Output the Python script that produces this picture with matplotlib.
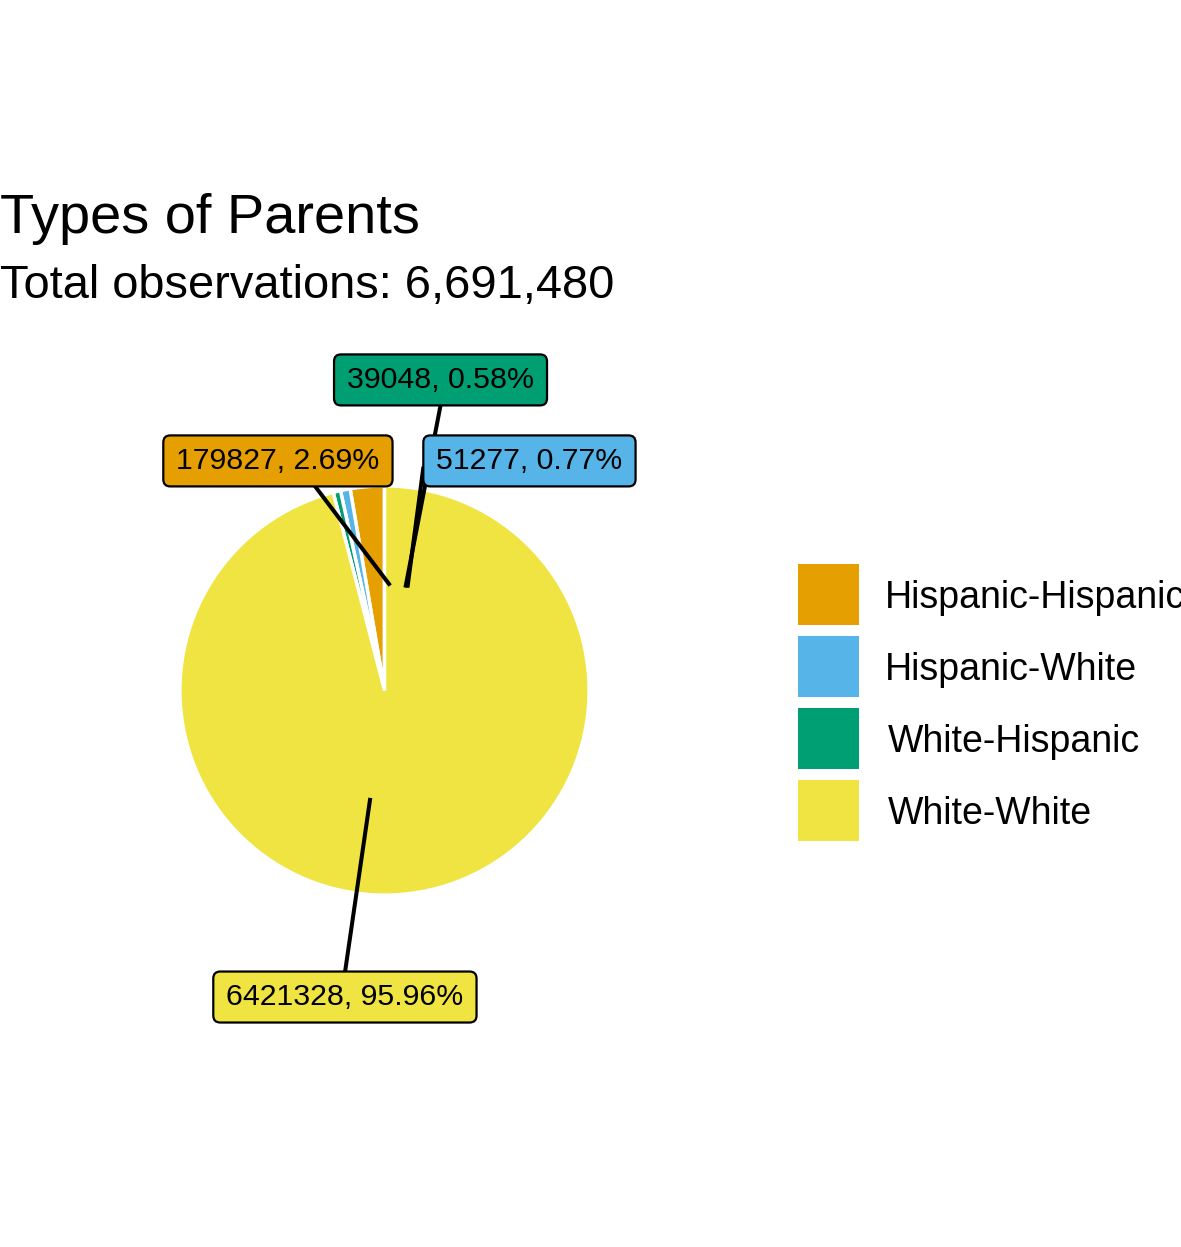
import matplotlib
matplotlib.use("Agg")
import matplotlib.pyplot as plt
from matplotlib.patches import FancyBboxPatch, Rectangle

plt.rcParams['font.family'] = ['Liberation Sans', 'DejaVu Sans']

categories = ["Hispanic-Hispanic", "Hispanic-White", "White-Hispanic", "White-White"]
counts = [179827, 51277, 39048, 6421328]
colors = ["#E69F00", "#56B4E9", "#009E73", "#F0E442"]

title = "Types of Parents"
total = sum(counts)
subtitle = f"Total observations: {total:,}"

# label layout (data units, pie radius = 1)
label_pos = [(-0.525, 1.131), (0.714, 1.131), (0.276, 1.530), (-0.195, -1.510)]
seg_start = [(-0.345, 1.010), (0.192, 1.103), (0.276, 1.404), (-0.194, -1.384)]
seg_end = [(0.028, 0.517), (0.113, 0.507), (0.103, 0.507), (-0.070, -0.529)]

W, H, DPI = 1181, 1247, 100
fig = plt.figure(figsize=(W / DPI, H / DPI), dpi=DPI)
ax = fig.add_axes([0, 0, 1, 1])

cx, cy, R = 384.5, 690.5, 203  # pixel layout of pie
ax.pie(counts, colors=colors, startangle=90, counterclock=True, radius=1.008,
       wedgeprops=dict(edgecolor="white", linewidth=2.5, joinstyle="miter"))
ax.set_xlim(-cx / R, (W - cx) / R)
ax.set_ylim(-(H - cy) / R, cy / R)
ax.set_aspect("auto")
ax.axis("off")

# leader segments
for (x0, y0), (x1, y1) in zip(seg_start, seg_end):
    ax.plot([x0, x1], [y0, y1], color="black", lw=2.9, solid_capstyle="butt", zorder=3)

# label texts
texts = []
for (lx, ly), c, col in zip(label_pos, counts, colors):
    pct = c / total * 100
    t = ax.text(lx, ly, f"{c}, {pct:.2f}%", ha="center", va="center",
                fontsize=21.8, color="black", zorder=6)
    texts.append((t, col))

# titles
fig.text(0 / W, 1 - 233 / H, title, fontsize=40.3, ha="left", va="baseline")
fig.text(0 / W, 1 - 298 / H, subtitle, fontsize=33.8, ha="left", va="baseline")

# legend
key = 61
for i, (cat, col) in enumerate(zip(categories, colors)):
    top = 564 + i * 72
    fig.patches.append(Rectangle((798 / W, 1 - (top + key) / H), key / W, key / H,
                                 transform=fig.transFigure, facecolor=col,
                                 edgecolor="none"))
    xoff = 885 if cat.startswith("Hispanic") else 888
    fig.text(xoff / W, 1 - (top + key / 2) / H, cat, fontsize=27,
             ha="left", va="center_baseline")

fig.canvas.draw()
renderer = fig.canvas.get_renderer()
for t, col in texts:
    bb = t.get_window_extent(renderer)
    padx = 13
    h = 51
    ymid = (bb.y0 + bb.y1) / 2
    box = FancyBboxPatch((bb.x0 - padx + 5, ymid - h / 2 + 5),
                         bb.width + 2 * padx - 10, h - 10,
                         boxstyle="round,pad=5,rounding_size=7",
                         transform=None, facecolor=col, edgecolor="black",
                         linewidth=1.6, zorder=5)
    ax.add_artist(box)

fig.savefig("out.png", dpi=DPI, facecolor="white")
